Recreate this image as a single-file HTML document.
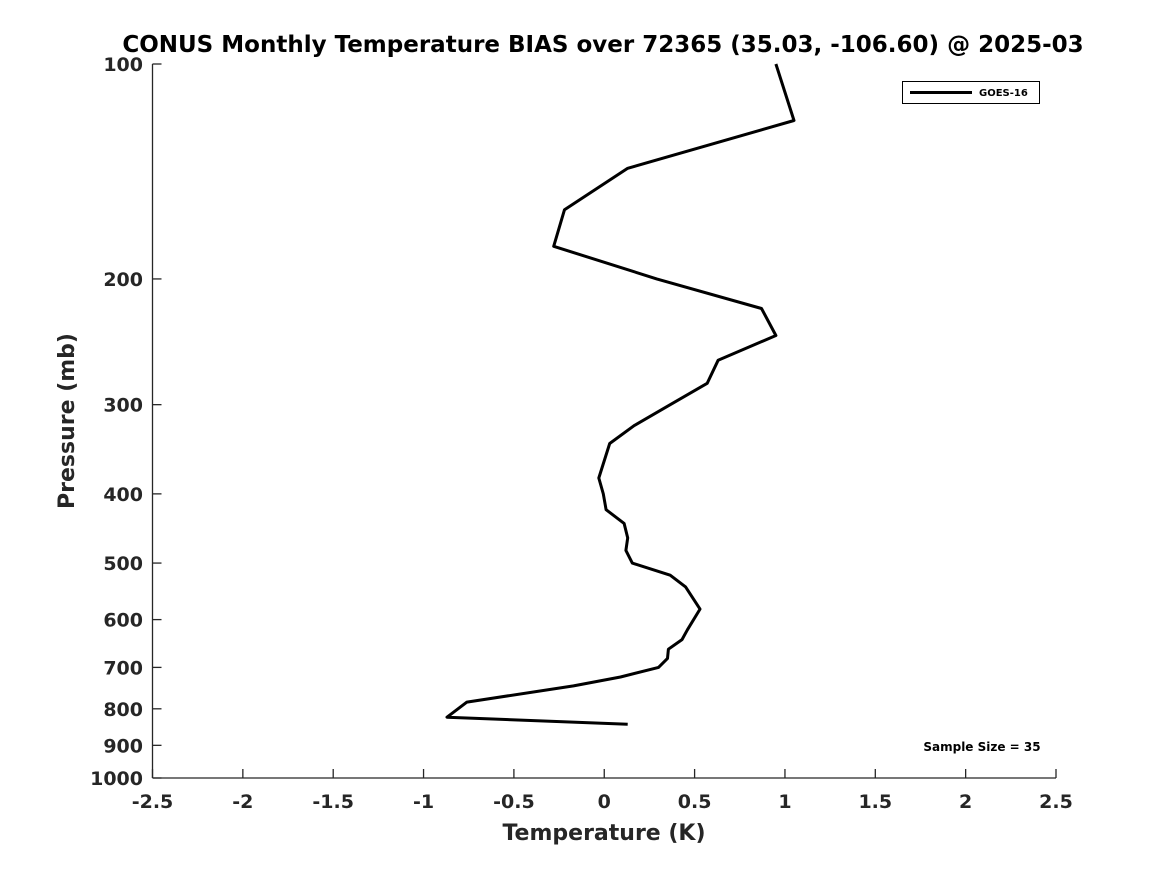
<!DOCTYPE html>
<html><head><meta charset="utf-8"><style>
body{margin:0;background:#fff;}
svg{display:block;font-family:"DejaVu Sans","Liberation Sans",sans-serif;font-weight:bold;}
</style></head><body>
<svg id="chart" width="1167" height="875" viewBox="0 0 1167 875" xmlns="http://www.w3.org/2000/svg">
<rect width="1167" height="875" fill="#fff"/>
<text x="603" y="52" font-size="23" text-anchor="middle" fill="#000">CONUS Monthly Temperature BIAS over 72365 (35.03, -106.60) @ 2025-03</text>
<g id="axes"></g>
<polyline id="series" fill="none" stroke="#000" stroke-width="3" stroke-linejoin="round"/>
<g>
<rect x="902.5" y="81.5" width="137" height="22" fill="#fff" stroke="#000" stroke-width="1"/>
<line x1="910" y1="92.5" x2="972" y2="92.5" stroke="#000" stroke-width="3"/>
<text x="979" y="96" font-size="10" fill="#000">GOES-16</text>
</g>
<text x="982" y="751" font-size="12" text-anchor="middle" fill="#000">Sample Size = 35</text>
<text x="604" y="840" font-size="22" text-anchor="middle" fill="#262626">Temperature (K)</text>
<text transform="translate(74,421) rotate(-90)" font-size="22" text-anchor="middle" fill="#262626">Pressure (mb)</text>
</svg>
<script>
const xTicks = [-2.5,-2,-1.5,-1,-0.5,0,0.5,1,1.5,2,2.5];
const xTickLabels = ["-2.5","-2","-1.5","-1","-0.5","0","0.5","1","1.5","2","2.5"];
const yTicks = [100,200,300,400,500,600,700,800,900,1000];
const yTickLabels = ["100","200","300","400","500","600","700","800","900","1000"];
const biasValues = [0.95,1.05,0.13,-0.22,-0.28,0.29,0.87,0.95,0.63,0.57,0.365,0.166,0.03,-0.03,-0.005,0.01,0.11,0.13,0.12,0.155,0.365,0.45,0.53,0.46,0.43,0.355,0.35,0.30,0.09,-0.17,-0.76,-0.87,0.13];
const pressureLevels = [100,120,140,160,180,200,220,240,260,280,300,321,340,380,400,421,440,461,480,500,520,540,580,620,640,660,680,700,722,743,783,822,841];

const X0=152.5,X1=1056,Y0=64,Y1=778;
const xScale=v=>X0+(v+2.5)/5*(X1-X0);
const yScale=p=>Y0+(Math.log10(p)-2)*(Y1-Y0);
const NS="http://www.w3.org/2000/svg";
const axes=document.getElementById('axes');
function mk(tag,attrs){const e=document.createElementNS(NS,tag);for(const k in attrs)e.setAttribute(k,attrs[k]);axes.appendChild(e);return e;}
const yAxis=mk('line',{x1:X0,y1:Y0,x2:X0,y2:Y1,stroke:'#262626','stroke-width':1.3});


const xAxis=mk('line',{x1:X0,y1:Y1,x2:X1,y2:Y1,stroke:'#262626','stroke-width':1.3});


xTicks.forEach((v,i)=>{
  const x=xScale(v);
  const t=mk('line',{x1:x,y1:Y1,x2:x,y2:Y1-9,stroke:'#262626','stroke-width':1.3});
  
  
  const l=mk('text',{x:x,y:808,'font-size':19,'text-anchor':'middle',fill:'#262626'});
  
  
  l.textContent=xTickLabels[i];
});
yTicks.forEach((p,i)=>{
  const y=yScale(p);
  const t=mk('line',{x1:X0,y1:y,x2:X0+9,y2:y,stroke:'#262626','stroke-width':1.3});
  
  
  const l=mk('text',{x:143,y:y+7,'font-size':19,'text-anchor':'end',fill:'#262626'});
  
  
  l.textContent=yTickLabels[i];
});
document.getElementById('series').setAttribute('points',biasValues.map((v,i)=>xScale(v).toFixed(1)+','+yScale(pressureLevels[i]).toFixed(1)).join(' '));
</script>
</body></html>
